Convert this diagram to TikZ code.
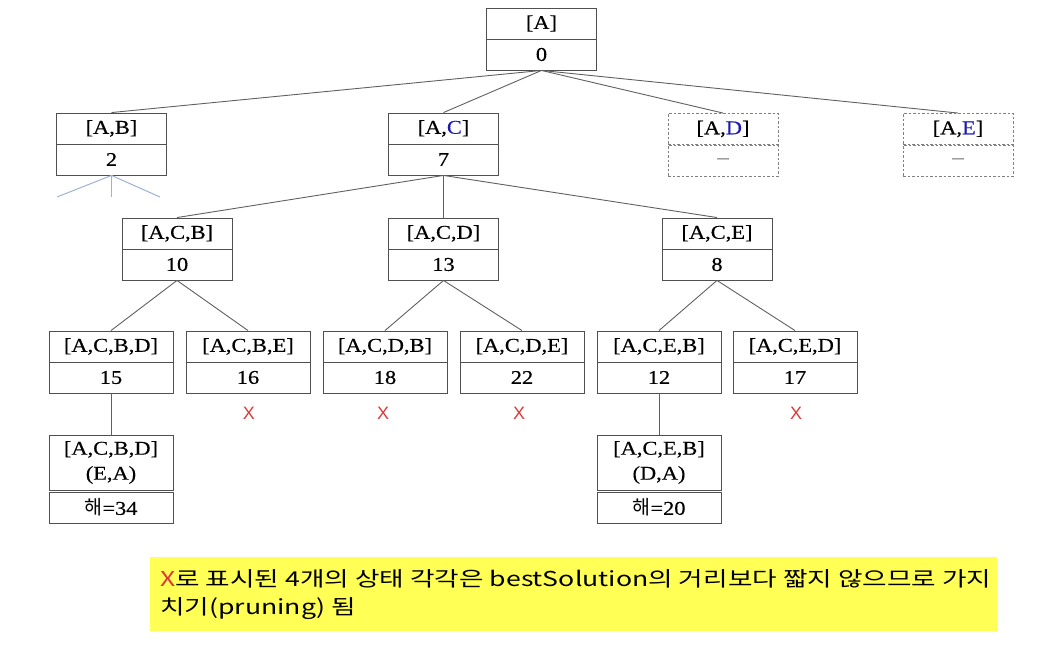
\documentclass[tikz,border=0pt]{standalone}
\usepackage{fontspec}
\setmainfont[FakeStretch=1.15,FakeBold=0.4]{Liberation Serif}
\newfontfamily\kr{Noto Sans CJK KR}
\newfontfamily\krwide[FakeStretch=1.3]{Noto Sans CJK KR}
\newfontfamily\xsans{Liberation Sans}
\definecolor{edgegray}{HTML}{606060}
\definecolor{boxgray}{HTML}{505050}
\definecolor{labblue}{HTML}{1A1AB0}
\definecolor{xred}{HTML}{E03838}
\definecolor{bluegray}{HTML}{9DB3D4}
\definecolor{note}{HTML}{FFFF55}
\tikzset{
  box/.style={draw=boxgray, line width=0.9pt, inner sep=0pt, minimum height=31pt,
    font=\fontsize{19.5}{22}\selectfont},
  w110/.style={minimum width=110pt},
  w124/.style={minimum width=124pt},
  dbox/.style={box, draw=gray, dashed, dash pattern=on 2.5pt off 2pt, minimum width=110pt},
  edge/.style={draw=edgegray, line width=0.9pt},
  bedge/.style={draw=bluegray, line width=1pt},
  xmark/.style={text=xred, font=\xsans\fontsize{18}{20}\selectfont, inner sep=0pt},
}
\begin{document}
\begin{tikzpicture}[x=1pt,y=-1pt]
\useasboundingbox (0,0) rectangle (1058,652);
% root
\node[box,w110] (r-t) at (541.5,23.5) {[A]};
\node[box,w110] (r-b) at (541.5,54.5) {0};
% level 1
\node[box,w110] (ab-t) at (111.5,128.5) {[A,B]};
\node[box,w110] (ab-b) at (111.5,159.5) {2};
\node[box,w110] (ac-t) at (443.5,128.5) {[A,\textcolor{labblue}{C}]};
\node[box,w110] (ac-b) at (443.5,159.5) {7};
\node[dbox] (ad-t) at (723,129) {[A,\textcolor{labblue}{D}]};
\node[dbox,text=gray] (ad-b) at (723,161) {--};
\node[dbox] (ae-t) at (958,129) {[A,\textcolor{labblue}{E}]};
\node[dbox,text=gray] (ae-b) at (958,161) {--};
% level 2
\node[box,w110] (acb-t) at (177,233.5) {[A,C,B]};
\node[box,w110] (acb-b) at (177,264.5) {10};
\node[box,w110] (acd-t) at (443.5,233.5) {[A,C,D]};
\node[box,w110] (acd-b) at (443.5,264.5) {13};
\node[box,w110] (ace-t) at (717,233.5) {[A,C,E]};
\node[box,w110] (ace-b) at (717,264.5) {8};
% level 3
\node[box,w124] (acbd-t) at (111,346.5) {[A,C,B,D]};
\node[box,w124] (acbd-b) at (111,377.5) {15};
\node[box,w124] (acbe-t) at (248,346.5) {[A,C,B,E]};
\node[box,w124] (acbe-b) at (248,377.5) {16};
\node[box,w124] (acdb-t) at (385,346.5) {[A,C,D,B]};
\node[box,w124] (acdb-b) at (385,377.5) {18};
\node[box,w124] (acde-t) at (522,346.5) {[A,C,D,E]};
\node[box,w124] (acde-b) at (522,377.5) {22};
\node[box,w124] (aceb-t) at (659,346.5) {[A,C,E,B]};
\node[box,w124] (aceb-b) at (659,377.5) {12};
\node[box,w124] (aced-t) at (795,346.5) {[A,C,E,D]};
\node[box,w124] (aced-b) at (795,377.5) {17};
% level 4
\node[box,w124,minimum height=55pt,align=center] (s1-t) at (111,462.5) {[A,C,B,D]\\[3pt](E,A)};
\node[box,w124] (s1-b) at (111,507.5) {{\kr 해}=34};
\node[box,w124,minimum height=55pt,align=center] (s2-t) at (659,462.5) {[A,C,E,B]\\[3pt](D,A)};
\node[box,w124] (s2-b) at (659,507.5) {{\kr 해}=20};
% X marks
\node[xmark] (x1) at (249,413) {X};
\node[xmark] (x2) at (383,413) {X};
\node[xmark] (x3) at (519,413) {X};
\node[xmark] (x4) at (796,413) {X};
% edges
\foreach \c in {ab,ac,ad,ae} \draw[edge] (r-b.south) -- (\c-t.north);
\foreach \c in {acb,acd,ace} \draw[edge] (ac-b.south) -- (\c-t.north);
\foreach \c in {acbd,acbe} \draw[edge] (acb-b.south) -- (\c-t.north);
\foreach \c in {acdb,acde} \draw[edge] (acd-b.south) -- (\c-t.north);
\foreach \c in {aceb,aced} \draw[edge] (ace-b.south) -- (\c-t.north);
\draw[edge] (acbd-b.south) -- (s1-t.north);
\draw[edge] (aceb-b.south) -- (s2-t.north);
% blue stubs under [A,B]
\coordinate (b1) at (57,197);
\coordinate (b2) at (111.5,197);
\coordinate (b3) at (160,197);
\foreach \c in {b1,b2,b3} \draw[bedge] (ab-b.south) -- (\c);
% note
\node[fill=note, minimum width=847pt, minimum height=74pt, inner sep=0pt] (note) at (573.5,594) {};
\node[anchor=west, inner sep=0pt, align=left, font=\krwide\fontsize{20.5}{28}\selectfont] (notetext) at (160,595)
  {\textcolor{xred}{X}로 표시된 4개의 상태 각각은 bestSolution의 거리보다 짧지 않으므로 가지\\치기(pruning) 됨};
\end{tikzpicture}
\end{document}
